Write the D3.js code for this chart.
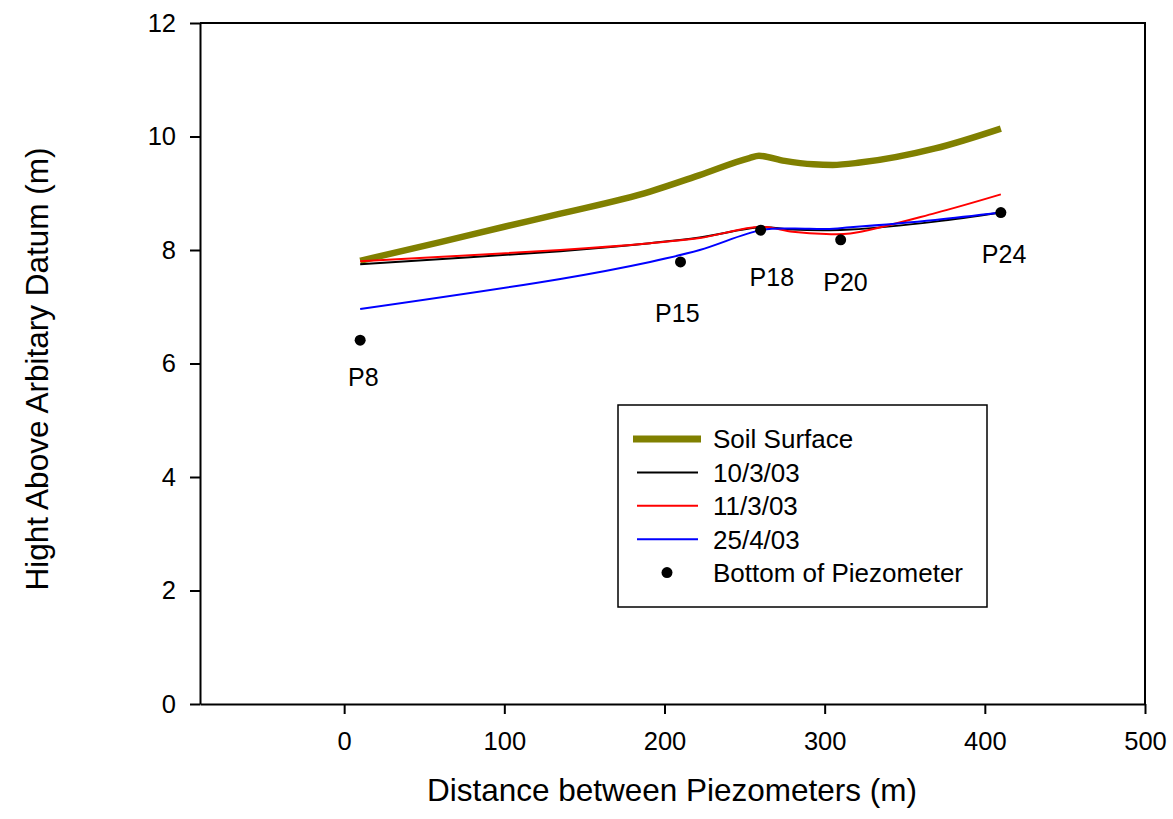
<!DOCTYPE html>
<html>
<head>
<meta charset="utf-8">
<script src="https://cdn.jsdelivr.net/npm/d3@7"></script>
<style>
  body { margin: 0; background: #fff; }
  svg text { font-family: "Liberation Sans", Arial, sans-serif; fill: #000; }
</style>
</head>
<body>
<svg id="chart" width="1173" height="819"></svg>
<script>
// Piezometer positions and bottoms
const piezoNames = ['P8', 'P15', 'P18', 'P20', 'P24'];
const piezoX = [10, 210, 260, 310, 410];
const piezoBottom = [6.41, 7.79, 8.35, 8.18, 8.66];
// label anchor (centre x, baseline y) in data units
const labelX = [12, 208, 267, 313, 412];
const labelY = [5.61, 6.74, 7.37, 7.27, 7.77];

// Soil surface profile
const soilX = [10, 60, 100, 135, 191, 222, 253, 259, 275, 293, 305, 322, 369, 410];
const soilY = [7.81, 8.14, 8.41, 8.64, 9.03, 9.32, 9.62, 9.66, 9.57, 9.51, 9.50, 9.54, 9.79, 10.14];

// Water table readings
const lineX = [10, 135, 191, 222, 260, 280, 301, 316, 369, 410];
const wt_10_3 = [7.75, 7.98, 8.12, 8.22, 8.40, 8.36, 8.35, 8.36, 8.50, 8.66];
const wt_11_3 = [7.80, 8.00, 8.12, 8.21, 8.41, 8.32, 8.28, 8.29, 8.65, 8.98];
const wt_25_4 = [6.96, 7.49, 7.79, 8.00, 8.35, 8.38, 8.37, 8.40, 8.53, 8.66];

const xTicks = [0, 100, 200, 300, 400, 500];
const yTicks = [0, 2, 4, 6, 8, 10, 12];

const svg = d3.select('#chart');
const plotLeft = 200, plotRight = 1145, plotTop = 23, plotBottom = 704;

const x = d3.scaleLinear().domain([-90, 500]).range([plotLeft, plotRight]);
const y = d3.scaleLinear().domain([0, 12]).range([plotBottom, plotTop]);

// Axes
const xAxis = svg.append('g')
  .attr('transform', `translate(0,${plotBottom})`)
  .call(d3.axisBottom(x).tickValues(xTicks).tickSize(10).tickSizeOuter(0).tickPadding(18));
const yAxis = svg.append('g')
  .attr('transform', `translate(${plotLeft},0)`)
  .call(d3.axisLeft(y).tickValues(yTicks).tickSize(10).tickSizeOuter(0).tickPadding(14));

[xAxis, yAxis].forEach(g => {
  g.selectAll('path, line').attr('stroke', '#000').attr('stroke-width', 2);
  g.selectAll('text').style('font-size', '25.5px').attr('fill', '#000');
});

// Top and right frame
svg.append('path')
  .attr('d', `M${plotLeft},${plotTop}H${plotRight}V${plotBottom}`)
  .attr('fill', 'none')
  .attr('stroke', '#000')
  .attr('stroke-width', 2);

const line = (xs, ys, curve) => d3.line()
  .x((d, i) => x(xs[i]))
  .y(d => y(d))
  .curve(curve)(ys);

// Soil surface
svg.append('path')
  .attr('d', line(soilX, soilY, d3.curveMonotoneX))
  .attr('fill', 'none')
  .attr('stroke', '#808000')
  .attr('stroke-width', 6.5);

// Water table lines
const series = [
  { name: '10/3/03', values: wt_10_3, color: '#000000' },
  { name: '11/3/03', values: wt_11_3, color: '#ff0000' },
  { name: '25/4/03', values: wt_25_4, color: '#0000ff' }
];
series.forEach(s => {
  svg.append('path')
    .attr('d', line(lineX, s.values, d3.curveCatmullRom.alpha(0.5)))
    .attr('fill', 'none')
    .attr('stroke', s.color)
    .attr('stroke-width', 2);
});

// Piezometer bottoms
svg.append('g').selectAll('circle')
  .data(piezoX)
  .join('circle')
  .attr('cx', d => x(d))
  .attr('cy', (d, i) => y(piezoBottom[i]))
  .attr('r', 5.5)
  .attr('fill', '#000');

svg.append('g').selectAll('text')
  .data(piezoNames)
  .join('text')
  .attr('x', (d, i) => x(labelX[i]))
  .attr('y', (d, i) => y(labelY[i]))
  .attr('text-anchor', 'middle')
  .style('font-size', '25px')
  .text(d => d);

// Axis titles
svg.append('text')
  .attr('x', 672)
  .attr('y', 801)
  .attr('text-anchor', 'middle')
  .style('font-size', '31.5px')
  .text('Distance between Piezometers (m)');

svg.append('text')
  .attr('transform', 'translate(48,369) rotate(-90)')
  .attr('text-anchor', 'middle')
  .style('font-size', '31.5px')
  .text('Hight Above Arbitary Datum (m)');

// Legend
const legend = svg.append('g');
legend.append('rect')
  .attr('x', 618).attr('y', 405)
  .attr('width', 369).attr('height', 202)
  .attr('fill', '#fff')
  .attr('stroke', '#000')
  .attr('stroke-width', 1.5);

const legendItems = [
  { label: 'Soil Surface', color: '#808000', width: 7, type: 'line' },
  ...series.map(s => ({ label: s.name, color: s.color, width: 2, type: 'line' })),
  { label: 'Bottom of Piezometer', color: '#000', type: 'dot' }
];
legendItems.forEach((d, i) => {
  const cy = 439 + i * 33.4;
  if (d.type === 'line') {
    legend.append('line')
      .attr('x1', d.width > 2 ? 633 : 637).attr('x2', d.width > 2 ? 701 : 698)
      .attr('y1', cy).attr('y2', cy)
      .attr('stroke', d.color)
      .attr('stroke-width', d.width);
  } else {
    legend.append('circle')
      .attr('cx', 667).attr('cy', cy)
      .attr('r', 5.5)
      .attr('fill', d.color);
  }
  legend.append('text')
    .attr('x', 713)
    .attr('y', cy)
    .attr('dy', '0.36em')
    .style('font-size', '26px')
    .text(d.label);
});
</script>
</body>
</html>
